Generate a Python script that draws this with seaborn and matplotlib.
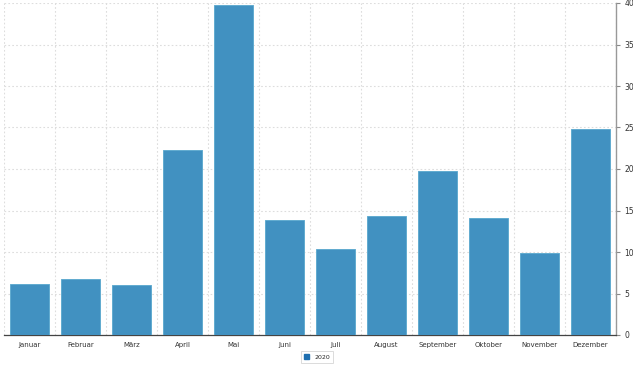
import pandas as pd
import matplotlib
matplotlib.use("Agg")
import matplotlib.pyplot as plt
import seaborn as sns

months = ["Januar", "Februar", "März", "April", "Mai", "Juni",
          "Juli", "August", "September", "Oktober", "November", "Dezember"]
values_2020 = [6.2, 6.8, 6.0, 22.3, 39.7, 13.8, 10.4, 14.3, 19.8, 14.1, 9.9, 24.8]
y_ticks = [0, 5, 10, 15, 20, 25, 30, 35, 40]

df = pd.DataFrame({"month": months, "value": values_2020, "year": "2020"})

sns.set_style("white")
plt.rcParams['font.family'] = ['DejaVu Sans']

fig = plt.figure(figsize=(6.33, 3.66), dpi=100)
ax = fig.add_axes([4 / 633, 31 / 366, 612 / 633, 332 / 366])

sns.barplot(data=df, x="month", y="value", hue="year", palette=["#4191c1"],
            saturation=1, width=0.75, dodge=False, edgecolor="#62acd0",
            linewidth=0.7, ax=ax, legend=False, zorder=3)

ax.set_xlim(-0.5, len(months) - 0.5)
ax.set_ylim(0, 40)
ax.set_xlabel("")
ax.set_ylabel("")

# y axis on the right
ax.yaxis.tick_right()
ax.set_yticks(y_ticks)
ax.set_yticklabels([str(t) for t in y_ticks], fontsize=5.5, color="#333333")
ax.tick_params(axis="y", length=3, width=0.8, color="#888888", pad=3)

# x ticks: labels at centres, marks at boundaries
ax.set_xticks(range(len(months)))
ax.set_xticklabels(months, fontsize=5, color="#333333")
ax.set_xticks([i - 0.5 for i in range(len(months) + 1)], minor=True)
ax.tick_params(axis="x", which="major", length=0, pad=5)
ax.tick_params(axis="x", which="minor", length=3, width=0.8, color="#555555")

ax.grid(axis="y", which="major", linestyle=(0, (1.5, 2)), color="#dddddd", linewidth=0.8, zorder=0)
ax.grid(axis="x", which="minor", linestyle=(0, (1.5, 2)), color="#dddddd", linewidth=0.8, zorder=0)
ax.set_axisbelow(True)

for side in ["top", "left"]:
    ax.spines[side].set_visible(False)
ax.spines["right"].set_color("#999999")
ax.spines["right"].set_linewidth(1.0)
ax.spines["bottom"].set_color("#444444")
ax.spines["bottom"].set_linewidth(0.9)

# legend
handle = plt.Rectangle((0, 0), 1, 1, facecolor="#1f6fb0", edgecolor="#1f6fb0")
leg = fig.legend([handle], ["2020"], loc="center", bbox_to_anchor=(317 / 633, 9 / 366),
                 fontsize=4.5, frameon=True, handlelength=0.9, handleheight=0.9,
                 borderpad=0.5, handletextpad=0.8, fancybox=False)
leg.get_frame().set_edgecolor("#cccccc")
leg.get_frame().set_linewidth(0.6)

fig.savefig("out.png", dpi=100)
